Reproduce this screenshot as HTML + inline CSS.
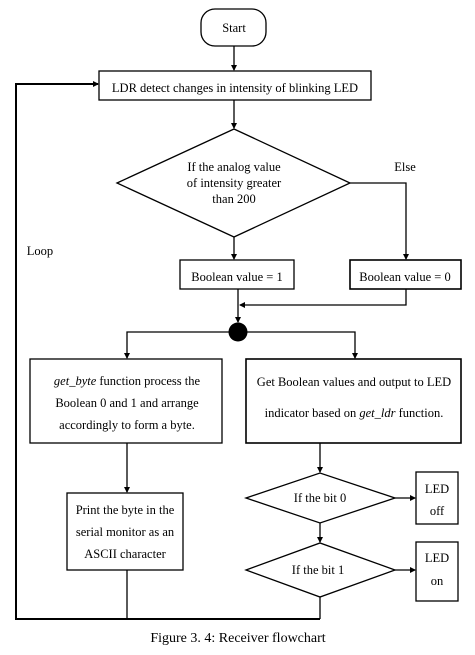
<!DOCTYPE html>
<html><head><meta charset="utf-8"><style>
html,body{margin:0;padding:0;background:#fff;}
svg{display:block;}
text{font-family:"Liberation Serif",serif;fill:#000;}
</style></head><body>
<svg width="475" height="655" viewBox="0 0 475 655" xmlns="http://www.w3.org/2000/svg">
<defs><marker id="a" markerWidth="6" markerHeight="6" refX="5" refY="3" orient="auto" markerUnits="userSpaceOnUse"><path d="M0,0 L6,3 L0,6 z" fill="#000"/></marker></defs>
<g stroke="#000" stroke-width="1.3" fill="none">
<rect x="201" y="9" width="65" height="37" rx="14"/>
<line x1="234" y1="46" x2="234" y2="70" marker-end="url(#a)"/>
<rect x="99" y="71" width="272" height="29"/>
<line x1="234" y1="100" x2="234" y2="128" marker-end="url(#a)"/>
<polygon points="117,183 234,129 350,183 234,237"/>
<line x1="234" y1="237" x2="234" y2="259" marker-end="url(#a)"/>
<polyline points="350,183 406,183 406,259" marker-end="url(#a)"/>
<rect x="180" y="260" width="114" height="29"/>
<rect x="350" y="260" width="111" height="29" stroke-width="1.6"/>
<line x1="238" y1="289" x2="238" y2="322" marker-end="url(#a)"/>
<polyline points="406,289 406,305 240,305" marker-end="url(#a)"/>
<polyline points="238,332 127,332 127,358" marker-end="url(#a)"/>
<polyline points="238,332 355,332 355,358" marker-end="url(#a)"/>
<rect x="30" y="359" width="192" height="84"/>
<rect x="246" y="359" width="215" height="84" stroke-width="1.6"/>
<line x1="127" y1="443" x2="127" y2="492" marker-end="url(#a)"/>
<rect x="67" y="493" width="116" height="77"/>
<line x1="127" y1="570" x2="127" y2="619"/>
<line x1="320" y1="443" x2="320" y2="472" marker-end="url(#a)"/>
<polygon points="246,498 320,473 395,498 320,523"/>
<line x1="395" y1="498" x2="415" y2="498" marker-end="url(#a)"/>
<rect x="416" y="472" width="42" height="52"/>
<line x1="320" y1="523" x2="320" y2="542" marker-end="url(#a)"/>
<polygon points="246,570 320,543 395,570 320,597"/>
<line x1="395" y1="570" x2="415" y2="570" marker-end="url(#a)"/>
<rect x="416" y="542" width="42" height="59"/>
<line x1="320" y1="597" x2="320" y2="619"/>
<polyline points="320,619 16,619 16,84 98,84" stroke-width="2" marker-end="url(#a)"/>
</g>
<circle cx="238" cy="332" r="9.5" fill="#000"/>
<g font-size="12.5" text-anchor="middle">
<text x="234" y="32">Start</text>
<text x="235" y="92">LDR detect changes in intensity of blinking LED</text>
<text x="234" y="171">If the analog value</text>
<text x="234" y="187">of intensity greater</text>
<text x="234" y="203">than 200</text>
<text x="405" y="171">Else</text>
<text x="40" y="255">Loop</text>
<text x="237" y="281">Boolean value = 1</text>
<text x="405" y="281">Boolean value = 0</text>
<text x="127" y="385"><tspan font-style="italic">get_byte</tspan> function process the</text>
<text x="127" y="407">Boolean 0 and 1 and arrange</text>
<text x="127" y="429">accordingly to form a byte.</text>
<text x="354" y="386">Get Boolean values and output to LED</text>
<text x="354" y="417">indicator based on  <tspan font-style="italic">get_ldr</tspan> function.</text>
<text x="125" y="514">Print the byte in the</text>
<text x="125" y="536">serial monitor as an</text>
<text x="125" y="558">ASCII character</text>
<text x="320" y="502">If the bit 0</text>
<text x="318" y="574">If the bit 1</text>
<text x="437" y="493">LED</text>
<text x="437" y="515">off</text>
<text x="437" y="562">LED</text>
<text x="437" y="585">on</text>
</g>
<text x="238" y="642" font-size="14" text-anchor="middle">Figure 3. 4: Receiver flowchart</text>
</svg>
</body></html>
